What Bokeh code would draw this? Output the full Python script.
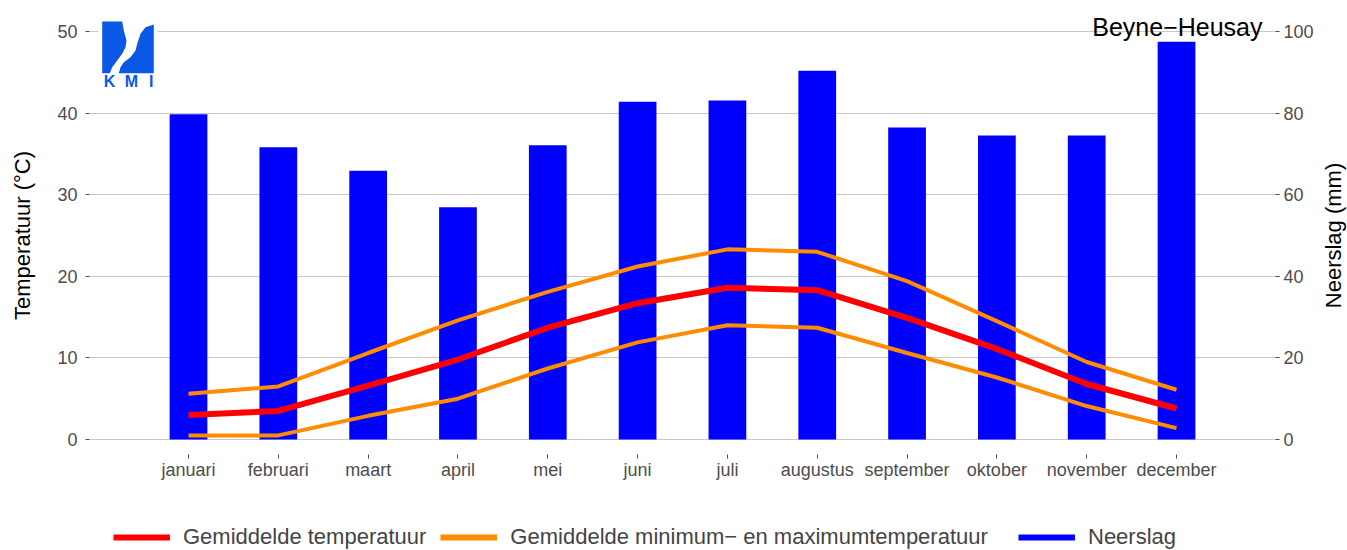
import math
from bokeh.plotting import figure
from bokeh.layouts import column, row
from bokeh.models import (Range1d, LinearAxis, FixedTicker, Legend, LegendItem,
                          Label, ColumnDataSource)
from bokeh.embed import file_html
from bokeh.resources import INLINE

# ---------------- data ----------------
months = ["januari", "februari", "maart", "april", "mei", "juni", "juli",
          "augustus", "september", "oktober", "november", "december"]
precip = [79.7, 71.6, 65.9, 56.9, 72.1, 82.8, 83.1, 90.4, 76.5, 74.5, 74.5, 97.5]
tmean = [3.0, 3.5, 6.6, 9.8, 13.7, 16.7, 18.6, 18.3, 14.9, 11.1, 6.8, 3.8]
tmin = [0.5, 0.5, 2.9, 5.0, 8.7, 11.9, 14.0, 13.7, 10.6, 7.6, 4.1, 1.4]
tmax = [5.6, 6.5, 10.6, 14.6, 18.1, 21.2, 23.3, 23.0, 19.4, 14.5, 9.5, 6.1]
temp_ticks = [0, 10, 20, 30, 40, 50]
precip_ticks = [0, 20, 40, 60, 80, 100]
station = "Beyne\u2212Heusay"
temp_title = "Temperatuur (°C)"
precip_title = "Neerslag (mm)"
legend_labels = ["Gemiddelde temperatuur",
                 "Gemiddelde minimum\u2212 en maximumtemperatuur",
                 "Neerslag"]

FONT = "Liberation Sans"
RED = "#ff0000"
ORANGE = "#ff8c00"
BLUE = "#0000ff"
LOGO = "#0a58e6"
GRID = "#c8c8c8"
TICK = "#4d4d4d"

# page-pixel layout helpers (frame left 89, right 1275, top 16, bottom 454)
X0, XS = 188.0, 89.82      # px of first month, px per month
T0, TS = 439.0, 8.16       # px of 0 degC, px per degC


def dx(px):
    return (px - X0) / XS


def dy(py):
    return (T0 - py) / TS


xs = list(range(len(months)))
src = ColumnDataSource(dict(x=xs, precip=precip, tmean=tmean, tmin=tmin, tmax=tmax))

W = 1347
SIDE_W = 30
p = figure(width=W - SIDE_W, height=500, output_backend="svg", toolbar_location=None,
           x_range=Range1d(dx(89), dx(1275)), y_range=Range1d(dy(454), dy(16)),
           min_border_left=89, min_border_right=W - SIDE_W - 1275, min_border_top=16,
           min_border_bottom=46)
p.extra_y_ranges = {"precip": Range1d(dy(454) * 2, dy(16) * 2)}
p.outline_line_color = None
p.background_fill_color = "white"
p.border_fill_color = "white"

p.xgrid.visible = False
p.ygrid.grid_line_color = GRID
p.ygrid.grid_line_width = 1


def style_axis(ax):
    ax.axis_line_color = None
    ax.major_tick_in = 0
    ax.major_tick_out = 4
    ax.major_tick_line_color = TICK
    ax.minor_tick_line_color = None
    ax.major_label_text_font = FONT
    ax.major_label_text_font_size = "18px"
    ax.major_label_text_color = TICK
    ax.axis_label_text_font = FONT
    ax.axis_label_text_font_size = "22px"
    ax.axis_label_text_font_style = "normal"
    ax.axis_label_text_color = "black"


# left axis
yax = p.yaxis[0]
yax.ticker = FixedTicker(ticks=temp_ticks)
style_axis(yax)
yax.axis_label = temp_title
yax.major_label_standoff = 8
yax.axis_label_standoff = 19

# right axis (its title is drawn in the narrow strip to the right)
rax = LinearAxis(y_range_name="precip", ticker=FixedTicker(ticks=precip_ticks))
style_axis(rax)
rax.major_label_standoff = 4
p.add_layout(rax, "right")

# x axis
xax = p.xaxis[0]
xax.ticker = FixedTicker(ticks=xs)
xax.major_label_overrides = {i: m for i, m in enumerate(months)}
style_axis(xax)
xax.major_label_standoff = 1

# bars and lines
p.vbar(x="x", top="precip", bottom=0, width=0.42, source=src,
       y_range_name="precip", fill_color=BLUE, line_color=None)
p.line("x", "tmax", source=src, line_color=ORANGE, line_width=4)
p.line("x", "tmin", source=src, line_color=ORANGE, line_width=4)
p.line("x", "tmean", source=src, line_color=RED, line_width=6)

# station title
p.add_layout(Label(x=dx(1262), y=dy(26), text=station, text_align="right",
                   text_baseline="middle", text_font=FONT,
                   text_font_size="25px", text_color="black"))

# KMI logo (decorative)
p.quad(left=dx(98), right=dx(157), top=dy(18), bottom=dy(92),
       fill_color="white", line_color=None)
logo_left = [(101.7, 21), (121.7, 21), (123.3, 30), (126, 40), (125, 46.7),
             (121.7, 53.3), (116.7, 60), (111.7, 66.7), (109.3, 72.7), (101.7, 72.7)]
logo_right = [(153.3, 24), (145, 26.7), (140, 33.3), (136.7, 43.3), (135, 50),
              (130, 56.7), (123.3, 61.7), (120, 66.7), (118.3, 72.7), (153.3, 72.7)]
for shape in (logo_left, logo_right):
    p.patch([dx(a) for a, b in shape], [dy(b) for a, b in shape],
            fill_color=LOGO, line_color=None)
for letter, cx in (("K", 109), ("M", 131), ("I", 150.7)):
    p.add_layout(Label(x=dx(cx), y=dy(81), text=letter, text_align="center",
                       text_baseline="middle", text_font=FONT,
                       text_font_style="bold",
                       text_font_size="16px", text_color=LOGO))

# ---------------- right-hand strip with the precipitation axis title ----------------
side = figure(width=SIDE_W, height=500, output_backend="svg", toolbar_location=None,
              x_axis_type=None, y_axis_type=None,
              x_range=Range1d(0, SIDE_W), y_range=Range1d(0, 1),
              min_border_left=0, min_border_right=0, min_border_top=16,
              min_border_bottom=46)
side.outline_line_color = None
side.grid.visible = False
side.add_layout(Label(x=16, y=0.5, text=precip_title, angle=math.pi / 2,
                      text_align="center", text_baseline="middle",
                      text_font=FONT, text_font_size="22px", text_color="black"))

# ---------------- legend strip (ggplot-style keys: thick lines) ----------------
lg = figure(width=W, height=50, output_backend="svg", toolbar_location=None,
            x_axis_type=None, y_axis_type=None,
            x_range=Range1d(0, 1), y_range=Range1d(0, 1),
            min_border_left=89, min_border_right=0, min_border_top=0,
            min_border_bottom=0)
lg.outline_line_color = None
lg.grid.visible = False
keys = [lg.line(x=[0], y=[0], line_color=c, line_width=6) for c in (RED, ORANGE, BLUE)]


def make_legend(idx, loc):
    return Legend(items=[LegendItem(label=legend_labels[i], renderers=[keys[i]])
                         for i in idx],
                  orientation="horizontal", location=loc,
                  glyph_width=57, glyph_height=26, label_height=26,
                  label_standoff=13, spacing=14, padding=0, margin=0,
                  label_text_font=FONT, label_text_font_size="22px",
                  border_line_color=None, background_fill_alpha=0)


lg.add_layout(make_legend([0, 1], (24, 0)))
lg.add_layout(make_legend([2], (929, 0)))

layout = column(row(p, side, spacing=0), lg, spacing=0)
open("out.html", "w").write(file_html(layout, INLINE))
